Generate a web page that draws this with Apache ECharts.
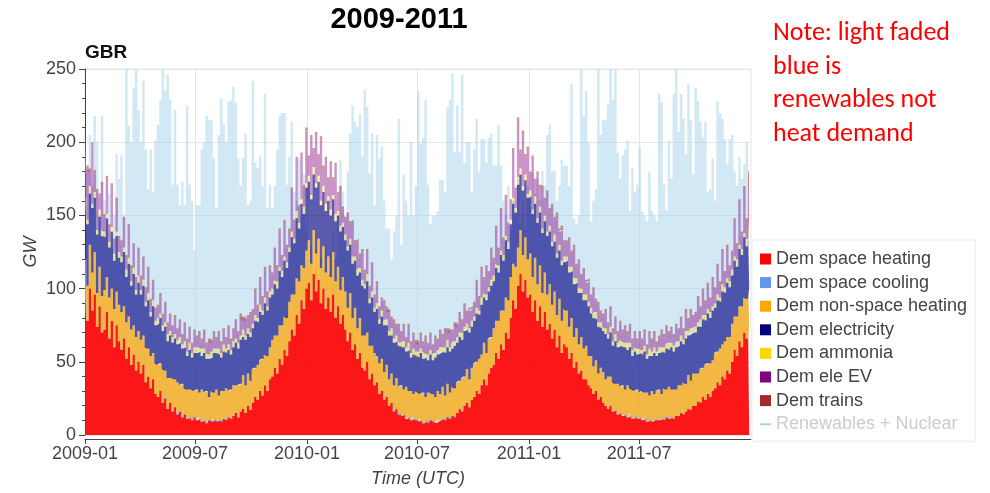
<!DOCTYPE html>
<html>
<head>
<meta charset="utf-8">
<title>GBR demand 2009-2011</title>
<script src="https://cdn.jsdelivr.net/npm/echarts@6/dist/echarts.min.js"></script>
<style>
  html, body { margin: 0; padding: 0; background: #ffffff; }
  #chart { width: 990px; height: 493px; }
</style>
</head>
<body>
<div id="chart"></div>
<script>
// ---- Sampling: one value every STEP_DAYS days starting at START (UTC) ----
const START = '2009-01-01';
const END = '2011-12-31';
const STEP_DAYS = 4;

// ---- Axis ticks ----
const xTickDates = ['2009-01-01', '2009-07-01', '2010-01-01', '2010-07-01', '2011-01-01', '2011-07-01'];
const xTickLabels = ['2009-01', '2009-07', '2010-01', '2010-07', '2011-01', '2011-07'];

// ---- Series names (legend order) ----
const demandNames = ['Dem space heating', 'Dem space cooling', 'Dem non-space heating',
  'Dem electricity', 'Dem ammonia', 'Dem ele EV', 'Dem trains'];
const supplyName = 'Renewables + Nuclear';

// ---- Values in GW (rows grouped by month, one row group per year) ----
const spaceHeating = [
  92,78,100,85,96,74,88,70, 72,84,66,78,60,75,64, 58,66,52,60,48,55,44,50, 42,48,36,40,32,38,28,
  26,30,22,25,18,22,16,19, 14,16,12,14,11,12,10,12, 10,11,9,10,8,10,9,10, 9,10,9,11,10,12,11,
  13,15,12,16,18,15,20,17, 22,26,24,30,27,34,30,38, 40,46,42,52,48,58,54, 64,72,68,82,76,92,86,100,
  104,92,110,98,106,90,100,86, 94,84,96,80,88,76,82, 72,64,70,58,62,52,56,46, 44,50,38,42,34,36,28,
  30,24,26,20,22,16,18,14, 13,14,11,12,10,11,10, 9,10,8,9,8,10,9,8, 9,10,11,10,12,11,13,12,
  15,18,16,20,22,19,24, 26,30,28,34,38,34,42,46, 48,56,52,62,58,70,66, 80,92,86,102,110,98,106,94,
  96,84,92,78,88,74,84,72, 76,66,72,60,68,56,62, 60,52,56,46,50,42,44,38, 38,34,32,28,30,24,26,
  22,20,18,20,16,17,14,15, 13,14,12,13,11,12,11,12, 10,11,9,10,9,10,10, 10,11,10,12,11,12,11,13,
  13,15,14,16,18,17,20, 20,23,22,26,24,28,26,30, 32,36,34,40,38,44,42, 50,58,54,64,60,70,66,76
];
const spaceCooling = [
  0,0,0,0,0,0,0,0, 0,0,0,0,0,0,0, 0,0,0,0,0,0,0,0, 0,0,0,0,0,0,0,
  0,0,0,1,0,0,1,0, 1,0,1,1,0,1,0,1, 1,1,0,1,1,0,1,1, 1,0,1,1,0,1,0,
  0,1,0,0,0,0,0,0, 0,0,0,0,0,0,0,0, 0,0,0,0,0,0,0, 0,0,0,0,0,0,0,0,
  0,0,0,0,0,0,0,0, 0,0,0,0,0,0,0, 0,0,0,0,0,0,0,0, 0,0,0,0,0,0,0,
  0,0,1,0,0,1,0,1, 1,0,1,0,1,1,0, 1,1,0,1,1,1,0,1, 1,0,1,0,1,0,0,1,
  0,0,1,0,0,0,0, 0,0,0,0,0,0,0,0, 0,0,0,0,0,0,0, 0,0,0,0,0,0,0,0,
  0,0,0,0,0,0,0,0, 0,0,0,0,0,0,0, 0,0,0,0,0,0,0,0, 0,0,0,0,0,0,0,
  0,0,0,1,0,1,0,0, 1,0,1,1,0,1,1,0, 1,1,0,1,0,1,1, 1,0,1,1,0,1,0,0,
  0,1,0,0,0,0,0, 0,0,0,0,0,0,0,0, 0,0,0,0,0,0,0, 0,0,0,0,0,0,0,0
];
const nonSpaceHeating = [
  28,24,30,26,29,23,27,25, 27,24,28,22,26,23,25, 26,22,25,21,24,20,23,21, 23,20,24,19,22,18,21,
  22,19,23,18,21,17,22,19, 21,18,22,17,20,18,21,17, 20,17,22,18,21,16,20,18, 21,17,20,18,22,17,20,
  21,18,22,19,23,19,22,20, 23,20,24,21,25,21,24,22, 25,22,26,23,27,23,26, 27,24,28,25,29,24,28,26,
  29,25,30,26,28,24,29,25, 28,24,29,25,27,23,26, 26,23,27,22,25,21,24,22, 24,20,23,19,22,18,21,
  22,19,21,18,20,17,21,18, 20,17,21,18,19,16,20, 19,17,21,16,20,18,19,17, 20,18,21,17,22,18,20,19,
  21,19,22,20,23,19,22, 23,20,24,21,25,22,24,21, 25,22,26,23,27,24,26, 28,25,29,26,30,25,29,26,
  28,24,29,25,28,23,27,24, 27,23,26,22,25,22,24, 25,22,24,21,23,20,23,21, 23,20,22,19,21,18,20,
  21,18,22,19,20,17,21,18, 20,17,21,18,20,17,19,17, 19,17,20,16,21,17,19, 20,17,21,18,22,18,20,18,
  21,18,22,19,23,20,22, 22,19,23,20,24,21,23,21, 24,21,25,22,26,23,25, 26,23,27,24,28,24,27,25
];
const electricity = [
  38,42,35,44,37,40,34,41, 36,40,34,39,33,38,32, 34,37,31,36,30,35,29,33, 31,34,28,33,27,32,26,
  28,31,26,30,25,29,24,28, 26,29,24,28,23,27,22,26, 25,28,23,27,22,26,23,27, 25,28,23,27,24,28,24,
  26,29,25,30,26,31,27,30, 28,32,29,33,30,35,31,34, 31,35,32,37,33,38,34, 34,39,35,41,36,42,37,43,
  40,44,38,45,39,43,37,42, 38,42,36,41,35,40,34, 35,39,33,37,32,36,31,34, 32,35,29,33,28,32,27,
  29,32,27,30,26,29,25,28, 26,29,24,28,23,27,24, 24,28,23,27,22,26,23,27, 25,28,24,29,25,28,26,29,
  27,30,26,31,27,32,28, 29,33,30,34,31,36,32,35, 32,36,33,38,34,39,35, 36,41,37,43,38,44,39,42,
  39,43,37,42,36,41,35,40, 36,40,34,39,33,38,32, 34,37,32,36,31,35,30,33, 31,34,29,33,28,32,27,
  28,31,26,30,25,29,25,28, 26,29,24,28,23,27,24,27, 25,28,23,27,24,28,24, 25,29,24,28,25,29,26,29,
  27,30,26,31,27,32,28, 28,32,29,33,30,34,31,34, 31,35,32,36,33,37,34, 33,38,34,39,35,41,36,42
];
const ammonia = [
  4,3,5,3,4,3,5,4, 4,3,4,3,5,3,4, 4,3,5,4,3,4,3,5, 3,4,3,5,3,4,3,
  4,3,4,3,5,3,4,3, 3,4,3,4,3,5,3,4, 4,3,5,3,4,3,4,3, 3,4,3,5,3,4,3,
  4,3,4,3,5,3,4,3, 3,4,3,5,3,4,3,4, 4,3,5,3,4,3,4, 3,4,3,5,4,3,5,3,
  4,3,5,3,4,3,4,5, 3,4,3,5,3,4,3, 4,3,4,5,3,4,3,4, 3,5,3,4,3,4,3,
  4,3,4,3,5,3,4,3, 3,4,3,5,3,4,3, 4,3,5,3,4,3,4,3, 3,4,3,4,5,3,4,3,
  4,3,5,3,4,3,4, 3,4,3,5,3,4,3,4, 4,3,5,3,4,3,5, 3,4,3,5,4,3,4,3,
  4,3,5,3,4,3,4,3, 4,3,5,3,4,3,4, 3,4,3,5,3,4,3,4, 4,3,4,3,5,3,4,
  3,4,3,4,3,5,3,4, 4,3,5,3,4,3,4,3, 3,4,3,5,3,4,3, 4,3,4,3,5,3,4,3,
  3,4,3,5,3,4,3, 4,3,5,3,4,3,4,3, 3,4,3,5,4,3,4, 4,3,5,3,4,3,5,4
];
const eleEV = [
  14,34,10,40,12,26,9,30, 10,24,9,28,8,20,9, 9,18,8,21,8,15,7,17, 8,14,7,16,7,12,6,
  7,12,6,11,6,10,6,11, 6,10,5,11,6,9,5,10, 6,9,5,10,5,9,6,10, 6,10,5,9,6,11,6,
  7,11,6,12,7,10,7,12, 8,15,7,17,8,18,8,16, 9,20,8,24,9,22,10, 10,28,11,34,10,30,12,36,
  12,38,11,32,13,42,11,30, 11,30,10,33,10,25,9, 10,21,9,23,9,18,8,19, 8,15,7,17,7,13,7,
  7,12,6,13,6,11,6,10, 6,10,5,11,5,9,6, 5,9,5,10,6,9,5,10, 6,10,6,11,6,10,7,11,
  7,12,7,13,7,12,8, 8,16,8,19,9,17,9,20, 10,24,9,27,10,25,11, 11,32,12,38,11,35,12,30,
  11,34,10,30,12,27,10,25, 10,24,9,26,9,21,9, 9,18,8,20,8,17,7,16, 8,14,7,15,7,12,6,
  7,11,6,12,6,10,6,11, 6,10,5,11,6,9,5,10, 6,9,5,10,6,9,5, 6,10,6,11,6,9,6,11,
  7,11,6,12,7,11,7, 8,15,7,16,8,15,8,18, 9,19,8,22,9,20,9, 10,24,9,28,10,30,11,32
];
const trains = [
  2,3,2,2,3,2,2,3, 2,2,3,2,2,3,2, 2,3,2,2,3,2,2,2, 2,2,3,2,2,2,3,
  2,2,2,3,2,2,2,2, 2,2,2,2,3,2,2,2, 2,2,2,3,2,2,2,2, 2,2,3,2,2,2,2,
  2,2,2,3,2,2,2,2, 2,3,2,2,2,3,2,2, 2,2,3,2,2,3,2, 3,2,2,3,2,2,3,2,
  2,3,2,3,2,2,3,2, 2,3,2,2,3,2,2, 2,2,3,2,2,3,2,2, 2,2,2,3,2,2,2,
  2,2,3,2,2,2,2,2, 2,2,2,2,3,2,2, 2,2,2,2,2,3,2,2, 2,2,3,2,2,2,2,2,
  2,2,2,3,2,2,2, 2,3,2,2,2,3,2,2, 2,2,3,2,2,3,2, 3,2,2,3,2,3,2,2,
  2,3,2,2,3,2,2,3, 2,2,3,2,2,3,2, 2,2,3,2,2,2,3,2, 2,2,2,3,2,2,2,
  2,2,2,2,3,2,2,2, 2,2,3,2,2,2,2,2, 2,2,2,2,3,2,2, 2,2,3,2,2,2,2,2,
  2,2,2,3,2,2,2, 2,3,2,2,2,3,2,2, 2,2,3,2,2,3,2, 3,2,2,3,2,2,3,2
];
const renewablesNuclear = [
  205,180,205,170,218,200,150,218, 160,140,165,130,150,192,175, 191,150,262,211,200,237,260,222, 200,242,195,168,195,166,201,
  212,229,260,235,246,229,171,222, 171,157,173,157,225,171,160,126, 157,157,195,200,218,215,215,189, 155,205,230,212,200,228,229,
  238,227,189,170,189,206,157,160, 242,186,182,191,170,233,155,171, 155,170,195,218,220,220,171, 190,214,166,160,189,150,178,140,
  120,130,110,125,105,120,115,130, 110,125,140,120,150,188,166, 150,180,206,225,214,210,219,190, 236,224,179,206,157,205,189,
  197,160,141,141,120,139,150,216, 130,178,160,150,200,150,170, 235,199,203,229,171,144,150,150, 153,174,174,166,224,229,247,193,
  225,193,246,186,200,200,166, 195,216,180,202,202,186,203,206, 184,184,212,184,160,150,170, 140,160,150,175,145,160,140,170,
  155,179,165,175,160,180,170,205, 212,180,181,160,170,188,184, 184,170,240,148,144,150,262,218, 235,200,146,160,168,262,205,
  215,215,226,260,229,250,193,175, 191,195,201,153,182,166,171,197, 153,150,146,180,153,150,146, 233,227,171,153,201,175,233,262,
  207,233,216,192,240,215,178, 237,228,214,203,214,166,168,189, 160,228,220,216,202,185,202, 205,180,170,190,175,185,200,205
];

// ---- Build the time stamps (ms, UTC) and [GW, time] rows ----
const DAY_MS = 86400000;
const tStart = Date.parse(START + 'T00:00:00Z');
const tEnd = Date.parse(END + 'T23:00:00Z');
const xTicks = xTickDates.map(d => Date.parse(d + 'T00:00:00Z'));
// GW first: the stack is computed on the first numeric dimension
const rows = arr => arr.map((v, i) => [v, tStart + i * STEP_DAYS * DAY_MS]);
const DIMS = ['GW', 'time'];
const ENCODE = { x: 'time', y: 'GW' };

const demandValues = [spaceHeating, spaceCooling, nonSpaceHeating, electricity, ammonia, eleEV, trains];
const demandColors = ['#ff0000', '#6495ed', '#ffa500', '#000080', '#ffd700', '#800080', '#a52a2a'];
const demandOpacity = [0.9, 0.6, 0.72, 0.64, 0.35, 0.42, 0.5];
const supplyColor = '#a6d1eb';

const FONT = '"Liberation Sans", Arial, Helvetica, sans-serif';
const AXIS_COLOR = '#444444';
const GRID_COLOR = '#e6e6e6';

const series = [{
  name: supplyName,
  type: 'line',
  step: 'middle',
  dimensions: DIMS,
  encode: ENCODE,
  data: rows(renewablesNuclear),
  symbol: 'none',
  showSymbol: false,
  lineStyle: { width: 0 },
  itemStyle: { color: supplyColor },
  areaStyle: { color: supplyColor, opacity: 0.5 },
  silent: true
}];
demandNames.forEach((name, k) => {
  series.push({
    name: name,
    type: 'line',
    stack: 'demand',
    step: 'middle',
    dimensions: DIMS,
    encode: ENCODE,
    data: rows(demandValues[k]),
    symbol: 'none',
    showSymbol: false,
    lineStyle: { width: 0 },
    itemStyle: { color: demandColors[k] },
    areaStyle: { color: demandColors[k], opacity: demandOpacity[k] },
    silent: true
  });
});

const legendData = demandNames.map(n => ({ name: n, icon: 'rect' }));
legendData.push({
  name: supplyName,
  icon: 'path://M0,0M0,4.6H11V6.4H0ZM11,11',
  textStyle: { color: '#cccccc' }
});

const chart = echarts.init(document.getElementById('chart'), null, { renderer: 'canvas' });
chart.setOption({
  animation: false,
  backgroundColor: '#ffffff',
  grid: {
    left: 85, top: 69, width: 666, height: 369.5,
    show: true, borderColor: GRID_COLOR, borderWidth: 1, backgroundColor: 'transparent'
  },
  xAxis: {
    // time in ms on a linear axis; ticks placed on month starts
    type: 'value',
    min: tStart,
    max: tEnd,
    offset: 4,
    axisLine: { show: true, onZero: false, lineStyle: { color: AXIS_COLOR, width: 1 } },
    axisTick: { show: true, length: 5, lineStyle: { color: AXIS_COLOR }, customValues: xTicks },
    minorTick: { show: false },
    axisLabel: {
      customValues: xTicks,
      formatter: function (v) {
        const k = xTicks.indexOf(v);
        return k >= 0 ? xTickLabels[k] : '';
      },
      color: AXIS_COLOR, fontSize: 18, fontFamily: FONT, margin: 6
    },
    splitLine: { show: true, lineStyle: { color: GRID_COLOR, width: 1 } },
    name: 'Time (UTC)',
    nameLocation: 'middle',
    nameGap: 31,
    nameTextStyle: { fontStyle: 'italic', fontSize: 18, color: AXIS_COLOR, fontFamily: FONT }
  },
  yAxis: {
    type: 'value',
    min: 0, max: 250, interval: 50,
    axisLine: { show: true, lineStyle: { color: AXIS_COLOR, width: 1 } },
    axisTick: { show: true, length: 6, lineStyle: { color: AXIS_COLOR } },
    minorTick: { show: true, splitNumber: 5, length: 3, lineStyle: { color: AXIS_COLOR } },
    axisLabel: { color: AXIS_COLOR, fontSize: 18, fontFamily: FONT, margin: 9 },
    splitLine: { show: true, lineStyle: { color: GRID_COLOR, width: 1 } },
    name: 'GW',
    nameLocation: 'middle',
    nameGap: 45,
    nameMoveOverlap: false,
    nameRotate: 90,
    nameTextStyle: { fontStyle: 'italic', fontSize: 18, color: AXIS_COLOR, fontFamily: FONT }
  },
  legend: {
    orient: 'vertical',
    left: 752, top: 240,
    padding: [10, 8, 8, 8],
    itemGap: 5.6,
    itemWidth: 11, itemHeight: 11,
    backgroundColor: '#ffffff',
    borderColor: '#ececec', borderWidth: 1,
    selectedMode: false,
    textStyle: { fontSize: 18, color: AXIS_COLOR, fontFamily: FONT, lineHeight: 18 },
    data: legendData
  },
  graphic: [
    {
      type: 'text', x: 399, y: 20, silent: true,
      style: { text: '2009-2011', font: 'bold 29px ' + FONT, fill: '#000000', align: 'center', verticalAlign: 'middle' }
    },
    {
      type: 'text', x: 85, y: 53, silent: true,
      style: { text: 'GBR', font: 'bold 19px ' + FONT, fill: '#111111', align: 'left', verticalAlign: 'middle' }
    },
    {
      type: 'text', x: 773, y: 17, silent: true,
      style: {
        text: 'Note: light faded\nblue is\nrenewables not\nheat demand',
        font: '26px Carlito, Calibri, Lato, sans-serif',
        fill: '#ff0000', lineHeight: 33.5, align: 'left', verticalAlign: 'top'
      }
    }
  ],
  series: series
});
</script>
</body>
</html>
